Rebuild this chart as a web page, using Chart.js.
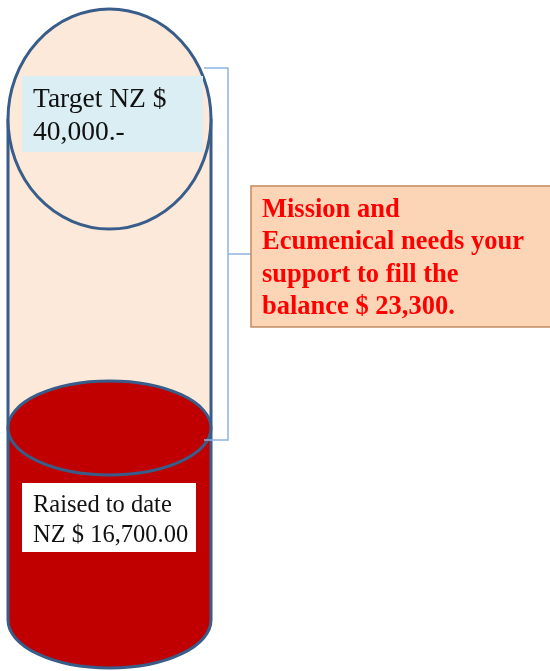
<!DOCTYPE html>
<html>
<head>
<meta charset="utf-8">
<script src="https://cdn.jsdelivr.net/npm/chart.js@4/dist/chart.umd.min.js"></script>
<style>
  html, body { margin: 0; padding: 0; background: #fff; }
  #wrap { width: 550px; height: 671px; position: relative; }
</style>
</head>
<body>
<div id="wrap"><canvas id="fundChart"></canvas></div>
<script>
// data
const categories = ["Appeal"];
const raisedValues = [16700];
const balanceValues = [23300];
const targetValues = [40000];
const targetLines = ["Target NZ $", "40,000.-"];
const raisedLines = ["Raised to date", "NZ $ 16,700.00"];
const appealLines = ["Mission and", "Ecumenical needs your", "support to fill the", "balance $ 23,300."];

const OUTLINE = "#385d8a";
const PEACH = "#fde9d9";
const RED = "#c00000";

function ellipsePath(ctx, cx, cy, rx, ry, a0, a1) {
  ctx.beginPath();
  ctx.ellipse(cx, cy, rx, ry, 0, a0 || 0, a1 === undefined ? Math.PI * 2 : a1);
}

// draws the cylinder ends, outline and the text boxes around the stacked bar
const cylinderPlugin = {
  id: "cylinder",
  afterDatasetsDraw(chart) {
    const ctx = chart.ctx;
    const red = chart.getDatasetMeta(0).data[0];
    const bal = chart.getDatasetMeta(1).data[0];
    const cx = red.x, rx = red.width / 2;
    const left = cx - rx, right = cx + rx;
    const yBase = red.base, yFill = red.y, yTop = bal.y;
    const capY = yTop - 41;

    ctx.save();
    // body up to the cap centre
    ctx.fillStyle = PEACH;
    ctx.fillRect(left, capY, rx * 2, yTop - capY + 1);

    // bottom end
    ctx.fillStyle = RED;
    ellipsePath(ctx, cx, yBase, rx, 48);
    ctx.fill();
    ctx.strokeStyle = OUTLINE;
    ctx.lineWidth = 3;
    ellipsePath(ctx, cx, yBase, rx, 48, 0, Math.PI);
    ctx.stroke();

    // sides
    ctx.beginPath();
    ctx.moveTo(left, capY); ctx.lineTo(left, yBase);
    ctx.moveTo(right, capY); ctx.lineTo(right, yBase);
    ctx.stroke();

    // surface of the raised amount
    ellipsePath(ctx, cx, yFill, rx, 47);
    ctx.fillStyle = RED;
    ctx.fill();
    ctx.stroke();

    // top cap
    ellipsePath(ctx, cx, capY, rx, 110);
    ctx.fillStyle = PEACH;
    ctx.fill();
    ctx.stroke();

    // target label
    ctx.fillStyle = "#daeef3";
    ctx.fillRect(left + 14, capY - 43, 181, 76);
    ctx.fillStyle = "#111";
    ctx.font = "27.5px 'Liberation Serif', serif";
    ctx.textBaseline = "alphabetic";
    ctx.fillText(targetLines[0], left + 25, capY - 12);
    ctx.fillText(targetLines[1], left + 25, capY + 21);

    // raised label
    ctx.fillStyle = "#fff";
    ctx.fillRect(left + 14, yBase - 137, 174, 69);
    ctx.fillStyle = "#111";
    ctx.font = "24.5px 'Liberation Serif', serif";
    ctx.fillText(raisedLines[0], left + 25, yBase - 108);
    ctx.fillText(raisedLines[1], left + 25, yBase - 78);

    // bracket over the balance
    const bTop = capY - 51, bBot = yFill + 12, bx = right + 17;
    const mid = (bTop + bBot) / 2;
    ctx.strokeStyle = "#8db3e2";
    ctx.lineWidth = 1.5;
    ctx.beginPath();
    ctx.moveTo(right - 7, bTop); ctx.lineTo(bx, bTop);
    ctx.lineTo(bx, bBot); ctx.lineTo(right - 7, bBot);
    ctx.moveTo(bx, mid); ctx.lineTo(bx + 23, mid);
    ctx.stroke();

    // appeal box
    const boxL = bx + 23, boxT = mid - 68;
    ctx.fillStyle = "#fbd5b5";
    ctx.fillRect(boxL, boxT, 320, 141);
    ctx.strokeStyle = "#c08b60";
    ctx.lineWidth = 1.5;
    ctx.strokeRect(boxL, boxT, 320, 141);
    ctx.fillStyle = "#ff0000";
    ctx.font = "bold 26.5px 'Liberation Serif', serif";
    appealLines.forEach((t, i) => {
      ctx.fillText(t, boxL + 11, boxT + 31 + i * 32.5);
    });
    ctx.restore();
  },
};

new Chart(document.getElementById("fundChart"), {
  type: "bar",
  data: {
    labels: categories,
    datasets: [
      {
        label: "Raised",
        data: raisedValues,
        backgroundColor: RED,
        borderWidth: 0,
        barPercentage: 1,
        categoryPercentage: 1,
      },
      {
        label: "Balance",
        data: balanceValues,
        backgroundColor: PEACH,
        borderWidth: 0,
        barPercentage: 1,
        categoryPercentage: 1,
      },
    ],
  },
  options: {
    responsive: true,
    maintainAspectRatio: false,
    animation: false,
    layout: { padding: { left: 8, right: 339, top: 160, bottom: 51 } },
    plugins: {
      legend: { display: false },
      title: { display: false },
      tooltip: { enabled: false },
    },
    scales: {
      x: { stacked: true, display: false },
      y: { stacked: true, display: false, min: 0, max: targetValues[0] },
    },
  },
  plugins: [cylinderPlugin],
});
</script>
</body>
</html>
